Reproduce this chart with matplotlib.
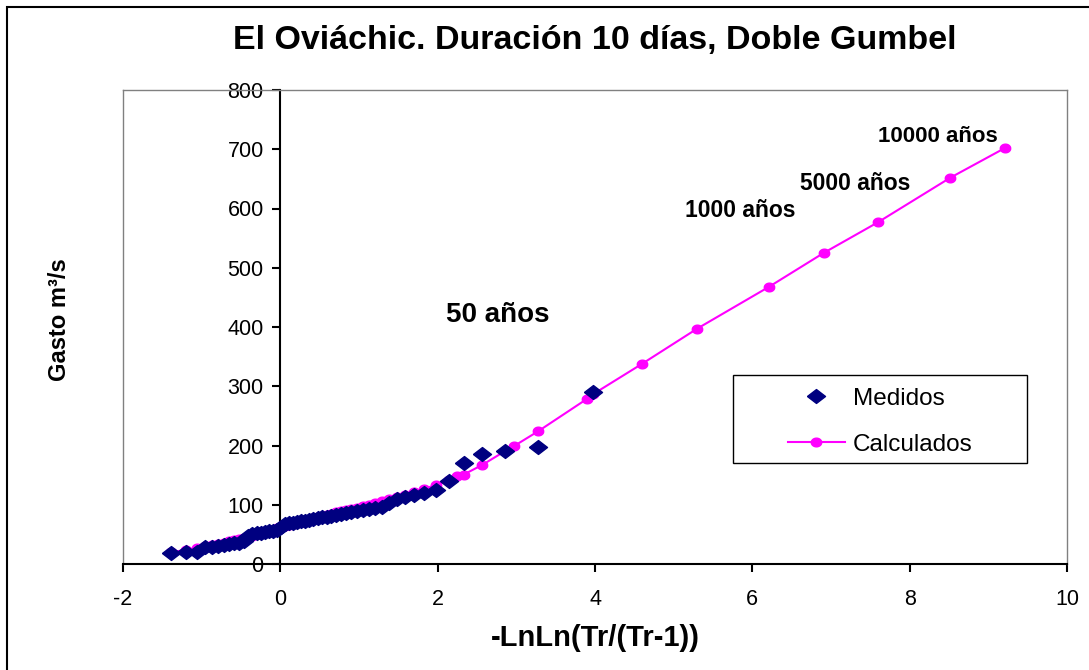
import matplotlib
matplotlib.use("Agg")
import numpy as np
import matplotlib.pyplot as plt
from matplotlib.patches import Rectangle
from matplotlib.lines import Line2D

plt.rcParams["font.family"] = ["Liberation Sans", "DejaVu Sans"]
plt.rcParams["axes.unicode_minus"] = False

#measured series: plotting position (Weibull, n=53) and discharge
x_med = [3.980, 3.277, 2.862, 2.564, 2.331, 2.139, 1.974, 1.830, 1.702, 1.586,
         1.479, 1.381, 1.290, 1.204, 1.123, 1.046, 0.973, 0.903, 0.836, 0.771,
         0.708, 0.648, 0.589, 0.531, 0.475, 0.420, 0.367, 0.313, 0.261, 0.210,
         0.158, 0.108, 0.057, 0.007, -0.044, -0.094, -0.145, -0.196, -0.248, -0.300,
         -0.354, -0.408, -0.464, -0.523, -0.583, -0.647, -0.715, -0.787, -0.867, -0.957,
         -1.061, -1.193, -1.384]
y_med = [290, 197, 190, 185, 170, 140, 125, 119, 116, 113,
         109, 103, 97, 95, 93, 91, 89, 88, 86, 84,
         83, 81, 80, 79, 77, 76, 75, 73, 72, 71,
         70, 69, 68, 63, 58, 56, 55, 54, 53, 52,
         51, 48, 38, 36, 35, 33, 32, 31, 29, 28,
         21, 21, 18]

#calculated series (double Gumbel), sorted by x
x_cal = [-1.384, -1.193, -1.061, -0.957, -0.867, -0.787, -0.715, -0.647, -0.583, -0.523,
         -0.464, -0.408, -0.354, -0.300, -0.248, -0.196, -0.145, -0.094, -0.044, 0.007,
         0.057, 0.108, 0.158, 0.210, 0.261, 0.313, 0.367, 0.420, 0.475, 0.531,
         0.589, 0.648, 0.708, 0.771, 0.836, 0.903, 0.973, 1.046, 1.123, 1.204,
         1.290, 1.381, 1.479, 1.586, 1.702, 1.830, 1.974, 2.139, 2.250, 2.331,
         2.564, 2.862, 2.970, 3.277, 3.902, 3.980, 4.600, 5.296, 6.214, 6.907,
         7.600, 8.517, 9.210]
y_cal = [20, 24, 27, 30, 32, 34, 36, 38, 40, 42,
         44, 46, 48, 50, 52, 54, 56, 58, 60, 62,
         64, 66, 68, 70, 72, 74, 75, 77, 79, 81,
         83, 85, 87, 89, 91, 93, 95, 98, 100, 103,
         106, 109, 113, 117, 122, 127, 133, 142, 148, 151,
         167, 191, 199, 224, 279, 287, 338, 397, 468, 525,
         577, 652, 702]

#return period labels
lbl_text = ["50 años", "1000 años", "5000 años", "10000 años"]
lbl_x = [2.10, 5.15, 6.61, 7.60]
lbl_y = [420, 596, 642, 722]
lbl_size = [20, 16.5, 16.5, 16]

#the original picture is stretched sideways, so markers are a bit wider than tall
diamond = [(-1.3, 0), (0, 1), (1.3, 0), (0, -1), (-1.3, 0)]
t = np.linspace(0, 2 * np.pi, 40)
ellipse = list(zip(1.2 * np.cos(t), np.sin(t)))

W, H = 1089, 670
fig = plt.figure(figsize=(W / 100, H / 100), dpi=100)
ax = fig.add_axes([123 / W, 1 - 564 / H, 944 / W, 474 / H])

l_cal, = ax.plot(x_cal, y_cal, color="#FF00FF", lw=1.5, marker=ellipse, ms=7.5,
                 label="Calculados", zorder=2)
l_med, = ax.plot(x_med, y_med, ls="none", color="#000080", marker=diamond, ms=13,
                 label="Medidos", zorder=3)

ax.set_xlim(-2, 10)
ax.set_ylim(0, 800)
ax.set_xticks(range(-2, 11, 2))
ax.set_yticks(range(0, 801, 100))

#excel style axes: y axis crossing at x=0, grey plot area border
ax.spines["left"].set_position(("data", 0))
ax.spines["left"].set_linewidth(1.5)
ax.spines["bottom"].set_linewidth(1.5)
for s in ["top", "right"]:
    ax.spines[s].set_color("#808080")
    ax.spines[s].set_linewidth(1)
ax.add_line(Line2D([0, 0], [0, 1], transform=ax.transAxes, color="#808080", lw=1, clip_on=False))
ax.tick_params(direction="out", length=6, width=1.5, labelsize=15.5, pad=6)
ax.tick_params(axis="x", pad=12)

ax.set_xlabel("-LnLn(Tr/(Tr-1))", fontsize=21, fontweight="bold", labelpad=10)
fig.text(60 / W, 1 - 320 / H, "Gasto m³/s", rotation=90, fontsize=17, fontweight="bold",
         ha="center", va="center")
fig.text(595 / W, 1 - 41 / H, "El Oviáchic. Duración 10 días, Doble Gumbel", fontsize=24.5,
         fontweight="bold", ha="center", va="center")

for txt, x, y, s in zip(lbl_text, lbl_x, lbl_y, lbl_size):
    ax.text(x, y, txt, fontsize=s, fontweight="bold", ha="left", va="center")

#legend with its own frame
leg = fig.legend([l_med, l_cal], ["Medidos", "Calculados"], loc="center",
                 bbox_to_anchor=((733 + 1027) / 2 / W, 1 - (375 + 463) / 2 / H - 0.004),
                 frameon=False, fontsize=17.5, handlelength=2.35, handletextpad=0.33,
                 labelspacing=1.0)
fig.add_artist(Rectangle((733 / W, 1 - 463 / H), 294 / W, 88 / H, transform=fig.transFigure,
                         fill=False, edgecolor="black", lw=1))

#outer chart border (right and bottom edges fall outside the picture)
fig.add_artist(Rectangle((7 / W, -10 / H), (W + 10) / W, (H + 3) / H, transform=fig.transFigure,
                         fill=False, edgecolor="black", lw=1.5))

plt.savefig("out.png", dpi=100)
